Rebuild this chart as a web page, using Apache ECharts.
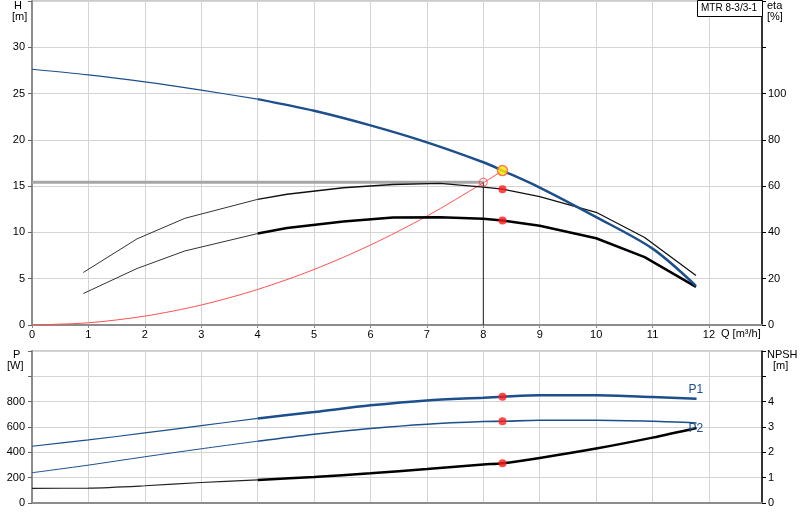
<!DOCTYPE html>
<html><head><meta charset="utf-8">
<script src="https://cdn.jsdelivr.net/npm/echarts/dist/echarts.min.js"></script>
<style>html,body{margin:0;padding:0;background:#fff}#c{width:800px;height:520px}</style>
</head><body><div id="c"></div>
<script>
// ---- data ----
const headQ = [0, 1, 2, 3, 4, 5, 6, 7, 8, 8.34, 9, 10, 11, 11.77];
const headH = [27.63, 27.02, 26.26, 25.37, 24.40, 23.14, 21.56, 19.73, 17.58, 16.68, 14.85, 11.66, 8.25, 4.23];

const etaQ = [0.91, 1.86, 2.71, 4.0, 4.52, 5.52, 6.4, 7.23, 8.0, 8.34, 9, 10, 10.86, 11.77];
const etaUpper = [22.7, 37.2, 46.1, 54.3, 56.5, 59.3, 60.7, 61.2, 59.6, 58.7, 55.5, 48.7, 37.8, 21.4];
const etaLower = [13.6, 24.4, 32.0, 39.5, 41.9, 44.7, 46.4, 46.6, 45.9, 45.2, 42.9, 37.5, 29.3, 16.5];

const sysQ = [0, 1, 2, 3, 4, 5, 6, 7, 8, 8.34];
const sysH = [0, 0.24, 0.96, 2.16, 3.84, 6.0, 8.64, 11.76, 15.36, 16.68];

const powQ = [0, 1, 2, 3, 4, 5, 6, 7, 8, 8.34, 9, 10, 11, 11.78];
const powP1 = [448, 498, 553, 611, 668, 718, 771, 810, 831, 839, 850, 850, 837, 824];
const powP2 = [239, 299, 365, 428, 488, 543, 588, 622, 643, 645, 653, 653, 645, 632];
const npsh = [0.58, 0.59, 0.68, 0.81, 0.91, 1.03, 1.17, 1.34, 1.52, 1.57, 1.78, 2.15, 2.58, 2.96];

const dutyPoint = [8, 15.43];          // Q, H (requested duty)
const opQ = 8.34;                      // operating point flow
const opH = 16.68;
const opEta = [58.7, 45.2];
const opP = [839, 645];
const opNPSH = 1.57;

const qTickLabels = ['0','1','2','3','4','5','6','7','8','9','10','11','12'];
const hTickLabels = [0, 5, 10, 15, 20, 25, 30];
const etaTickLabels = [0, 20, 40, 60, 80, 100];
const pTickLabels = [0, 200, 400, 600, 800];
const npshTickLabels = [0, 1, 2, 3, 4];
const modelName = 'MTR 8-3/3-1';
const curveNames = ['P1', 'P2'];

// ---- helpers ----
const BLUE = '#1c4f8c';
const pairs = (xs, ys) => xs.map((x, i) => [x, ys[i]]);
const upTo = (xs, ys, lim) => pairs(xs, ys).filter(p => p[0] <= lim);
const from = (xs, ys, lim) => pairs(xs, ys).filter(p => p[0] >= lim);
const FONT = 'Liberation Sans, Arial, sans-serif';
const lbl = { color: '#000', fontSize: 11, fontFamily: FONT };
const split = { show: true, lineStyle: { color: '#d4d4d4', width: 1 } };

const chart = echarts.init(document.getElementById('c'), null, { renderer: 'canvas' });

const xCommon = (grid, showLabels) => ({
  type: 'value', gridIndex: grid, min: 0, max: 12.94, interval: 1,
  axisLine: { show: true, onZero: false, lineStyle: { color: '#8c8c8c', width: 2 } },
  axisTick: { show: showLabels, length: 3, lineStyle: { color: '#8c8c8c' } },
  axisLabel: { show: showLabels, ...lbl, margin: 4, showMaxLabel: false,
    formatter: v => qTickLabels.includes(String(v)) ? String(v) : '' },
  splitLine: split
});

const line = (data, x, y, color, width, smooth, z) => ({
  type: 'line', xAxisIndex: x, yAxisIndex: y, data, showSymbol: false, smooth: smooth,
  lineStyle: { color, width }, z: z || 3, silent: true
});
const withEndLabel = (s, text, offset) => Object.assign(s, {
  endLabel: { show: true, formatter: text, color: BLUE, fontSize: 12, fontFamily: FONT,
    distance: 0, offset: offset }
});

const option = {
  animation: false,
  backgroundColor: '#fff',
  grid: [
    { left: 32, top: 1, width: 730, height: 324, show: true, borderColor: '#999', borderWidth: 1 },
    { left: 32, top: 351, width: 730, height: 152, show: true, borderColor: '#999', borderWidth: 1 }
  ],
  xAxis: [xCommon(0, true), xCommon(1, false)],
  yAxis: [
    { type: 'value', gridIndex: 0, min: 0, max: 35, interval: 5, position: 'left',
      axisLine: { show: true, lineStyle: { color: '#8c8c8c', width: 2 } },
      axisTick: { show: true, length: 4, lineStyle: { color: '#666' } },
      axisLabel: { ...lbl, margin: 7, formatter: v => hTickLabels.includes(v) ? String(v) : '' },
      splitLine: split },
    { type: 'value', gridIndex: 0, min: 0, max: 140, interval: 20, position: 'right',
      axisLine: { show: true, lineStyle: { color: '#000', width: 1.5 } },
      axisTick: { show: true, length: 4, lineStyle: { color: '#000' } },
      axisLabel: { ...lbl, margin: 6, formatter: v => etaTickLabels.includes(v) ? String(v) : '' },
      splitLine: { show: false } },
    { type: 'value', gridIndex: 1, min: 0, max: 1200, interval: 200, position: 'left',
      axisLine: { show: true, lineStyle: { color: '#8c8c8c', width: 2 } },
      axisTick: { show: true, length: 4, lineStyle: { color: '#666' } },
      axisLabel: { ...lbl, margin: 7, formatter: v => pTickLabels.includes(v) ? String(v) : '' },
      splitLine: split },
    { type: 'value', gridIndex: 1, min: 0, max: 6, interval: 1, position: 'right',
      axisLine: { show: true, lineStyle: { color: '#000', width: 1.5 } },
      axisTick: { show: true, length: 4, lineStyle: { color: '#000' } },
      axisLabel: { ...lbl, margin: 6, formatter: v => npshTickLabels.includes(v) ? String(v) : '' },
      splitLine: { show: false } }
  ],
  series: [
    // duty lines
    line([[0, dutyPoint[1]], [dutyPoint[0], dutyPoint[1]]], 0, 0, '#a6a6a6', 3, false, 2),
    line([[dutyPoint[0], dutyPoint[1]], [dutyPoint[0], 0]], 0, 0, '#222', 1, false, 2),
    // system curve
    line(pairs(sysQ, sysH), 0, 0, '#ff5050', 1, 0.3, 3),
    // head curve
    line(upTo(headQ, headH, 4), 0, 0, BLUE, 1.2, 0.3, 4),
    line(from(headQ, headH, 4), 0, 0, BLUE, 2.5, 0.3, 4),
    // efficiency curves
    line(upTo(etaQ, etaUpper, 4), 0, 1, '#333', 1, false, 3),
    line(from(etaQ, etaUpper, 4), 0, 1, '#111', 1.3, false, 3),
    line(upTo(etaQ, etaLower, 4), 0, 1, '#333', 1, false, 3),
    line(from(etaQ, etaLower, 4), 0, 1, '#000', 2.5, false, 3),
    // markers top
    { type: 'scatter', xAxisIndex: 0, yAxisIndex: 0, z: 6, silent: true,
      data: [dutyPoint], symbol: 'circle', symbolSize: 8,
      itemStyle: { color: 'rgba(255,255,255,0)', borderColor: '#ff4040', borderWidth: 1 } },
    { type: 'scatter', xAxisIndex: 0, yAxisIndex: 0, z: 7, silent: true,
      data: [[opQ, opH]], symbol: 'circle', symbolSize: 10,
      itemStyle: { color: '#ffee00', borderColor: '#ff5a3c', borderWidth: 1.5 } },
    { type: 'scatter', xAxisIndex: 0, yAxisIndex: 1, z: 7, silent: true,
      data: opEta.map(v => [opQ, v]), symbol: 'circle', symbolSize: 8,
      itemStyle: { color: '#ff1a1a' } },
    // power curves
    line(upTo(powQ, powP1, 4), 1, 2, BLUE, 1.2, 0.3, 4),
    withEndLabel(line(from(powQ, powP1, 4), 1, 2, BLUE, 2.5, 0.3, 4), curveNames[0], [-8, -9]),
    line(upTo(powQ, powP2, 4), 1, 2, BLUE, 1, 0.3, 4),
    withEndLabel(line(from(powQ, powP2, 4), 1, 2, BLUE, 1.6, 0.3, 4), curveNames[1], [-8, 6]),
    // NPSH
    line(upTo(powQ, npsh, 4), 1, 3, '#222', 1.2, 0.3, 4),
    line(from(powQ, npsh, 4), 1, 3, '#000', 2.5, 0.3, 4),
    // markers bottom
    { type: 'scatter', xAxisIndex: 1, yAxisIndex: 2, z: 7, silent: true,
      data: opP.map(v => [opQ, v]), symbol: 'circle', symbolSize: 8,
      itemStyle: { color: '#ff1a1a' } },
    { type: 'scatter', xAxisIndex: 1, yAxisIndex: 3, z: 7, silent: true,
      data: [[opQ, opNPSH]], symbol: 'circle', symbolSize: 8,
      itemStyle: { color: '#ff1a1a' } }
  ],
  graphic: [
    { type: 'text', left: 14, top: 0, style: { text: 'H', font: '11px ' + FONT, fill: '#000' } },
    { type: 'text', left: 12, top: 11, style: { text: '[m]', font: '11px ' + FONT, fill: '#000' } },
    { type: 'text', left: 767, top: 0, style: { text: 'eta', font: '11px ' + FONT, fill: '#000' } },
    { type: 'text', left: 767, top: 11, style: { text: '[%]', font: '11px ' + FONT, fill: '#000' } },
    { type: 'text', left: 13, top: 349, style: { text: 'P', font: '11px ' + FONT, fill: '#000' } },
    { type: 'text', left: 7, top: 360, style: { text: '[W]', font: '11px ' + FONT, fill: '#000' } },
    { type: 'text', left: 767, top: 349, style: { text: 'NPSH', font: '11px ' + FONT, fill: '#000' } },
    { type: 'text', left: 773, top: 360, style: { text: '[m]', font: '11px ' + FONT, fill: '#000' } },
    { type: 'text', left: 721, top: 328, style: { text: 'Q [m³/h]', font: '11px ' + FONT, fill: '#000' } },
    { type: 'rect', left: 697, top: 0, z: 10, shape: { width: 65, height: 16 },
      style: { fill: '#fff', stroke: '#000', lineWidth: 1 } },
    { type: 'text', left: 701, top: 3, z: 11, style: { text: modelName, font: '10px ' + FONT, fill: '#000' } }
  ]
};
chart.setOption(option);
</script>
</body></html>
